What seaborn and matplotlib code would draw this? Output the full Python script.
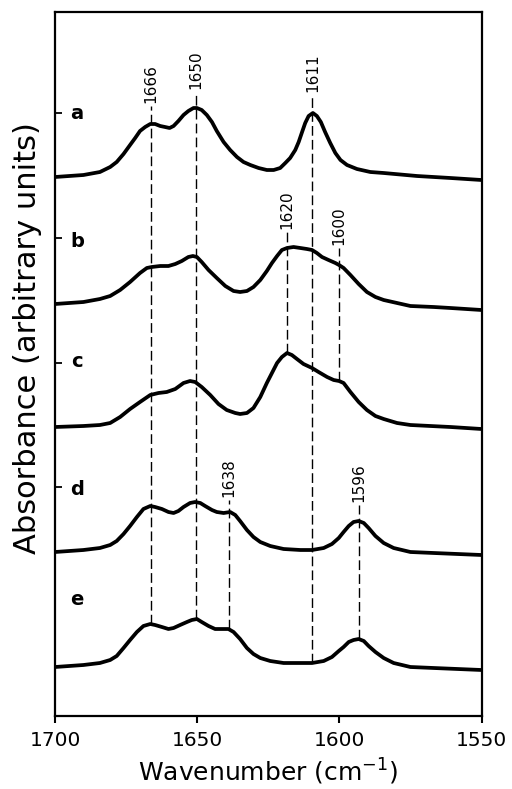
import numpy as np
import pandas as pd
import matplotlib
matplotlib.use("Agg")
import matplotlib.pyplot as plt
import seaborn as sns

# spectra (wavenumber, absorbance incl. stacking offset)
wn_a = [1700, 1690.0, 1684.2, 1680.6, 1678.3, 1675.9, 1673.6, 1671.8, 1670.1, 1668.3,
        1666.5, 1664.8, 1663.0, 1661.3, 1659.7, 1658.3, 1656.6, 1654.8, 1653.1, 1651.3,
        1650.1, 1648.4, 1646.6, 1644.8, 1643.1, 1640.7, 1638.4, 1636.0, 1633.7, 1631.3,
        1628.4, 1625.5, 1623.1, 1620.8, 1619.0, 1617.3, 1615.5, 1614.3, 1613.1, 1612.0,
        1610.8, 1609.3, 1607.9, 1606.5, 1605.0, 1603.2, 1601.4, 1599.6, 1597.3, 1593.8,
        1589.1, 1584.4, 1572.7, 1560.9, 1550]
abs_a = [5.39, 5.41, 5.44, 5.49, 5.54, 5.62, 5.71, 5.78, 5.85, 5.89,
         5.92, 5.92, 5.90, 5.89, 5.88, 5.90, 5.95, 6.01, 6.05, 6.08,
         6.08, 6.06, 6.01, 5.94, 5.85, 5.74, 5.66, 5.59, 5.54, 5.51,
         5.48, 5.46, 5.46, 5.48, 5.53, 5.58, 5.66, 5.74, 5.84, 5.93,
         6.00, 6.03, 6.00, 5.94, 5.84, 5.73, 5.63, 5.56, 5.51, 5.47,
         5.44, 5.43, 5.40, 5.38, 5.36]

wn_b = [1700, 1690.0, 1684.2, 1680.6, 1677.1, 1673.6, 1670.1, 1667.7, 1666.0, 1663.0,
        1660.1, 1657.7, 1655.4, 1653.1, 1651.5, 1650.1, 1648.4, 1646.0, 1643.1, 1640.1,
        1637.2, 1634.9, 1632.5, 1630.2, 1627.8, 1625.5, 1623.7, 1621.9, 1620.2, 1618.4,
        1616.1, 1613.7, 1611.4, 1609.6, 1607.9, 1606.1, 1603.8, 1601.4, 1600.1, 1598.5,
        1596.1, 1593.2, 1590.3, 1587.3, 1584.4, 1579.7, 1575.0, 1566.8, 1560.9, 1550]
abs_b = [4.12, 4.14, 4.17, 4.20, 4.26, 4.34, 4.43, 4.48, 4.49, 4.50,
         4.50, 4.52, 4.55, 4.59, 4.60, 4.59, 4.54, 4.46, 4.38, 4.30,
         4.25, 4.24, 4.25, 4.29, 4.36, 4.45, 4.53, 4.60, 4.66, 4.68,
         4.69, 4.68, 4.67, 4.66, 4.63, 4.59, 4.56, 4.53, 4.51, 4.48,
         4.41, 4.32, 4.24, 4.19, 4.16, 4.13, 4.10, 4.09, 4.08, 4.06]

wn_c = [1700, 1690.0, 1684.2, 1680.6, 1677.1, 1673.6, 1670.1, 1666.5, 1663.6, 1660.7,
        1657.7, 1654.8, 1652.5, 1650.7, 1648.4, 1645.4, 1642.5, 1639.6, 1636.6, 1634.9,
        1632.5, 1630.2, 1627.8, 1625.5, 1623.7, 1621.9, 1620.2, 1618.4, 1616.7, 1614.9,
        1612.6, 1609.6, 1607.3, 1604.3, 1602.0, 1600.1, 1598.5, 1596.1, 1593.2, 1590.3,
        1587.3, 1584.4, 1579.7, 1575.0, 1560.9, 1550]
abs_c = [2.89, 2.90, 2.91, 2.93, 2.99, 3.07, 3.14, 3.21, 3.23, 3.24,
         3.27, 3.33, 3.35, 3.34, 3.29, 3.21, 3.12, 3.06, 3.03, 3.02,
         3.03, 3.08, 3.19, 3.33, 3.43, 3.53, 3.59, 3.63, 3.61, 3.57,
         3.52, 3.48, 3.44, 3.39, 3.36, 3.35, 3.33, 3.24, 3.14, 3.06,
         3.00, 2.97, 2.93, 2.91, 2.89, 2.87]

wn_d = [1700, 1690.0, 1684.2, 1680.6, 1678.3, 1675.9, 1673.6, 1671.2, 1668.9, 1666.5,
        1664.8, 1662.4, 1660.1, 1658.3, 1656.6, 1654.8, 1652.5, 1650.7, 1648.9, 1647.2,
        1644.8, 1643.1, 1640.7, 1638.4, 1636.6, 1634.9, 1632.5, 1630.2, 1627.8, 1624.3,
        1619.6, 1613.7, 1609.6, 1605.5, 1602.6, 1600.2, 1598.5, 1596.7, 1595.0, 1593.2,
        1591.4, 1589.7, 1587.3, 1584.4, 1580.9, 1575.0, 1566.8, 1550]
abs_d = [1.64, 1.66, 1.68, 1.71, 1.75, 1.82, 1.90, 1.99, 2.07, 2.10,
         2.09, 2.07, 2.04, 2.03, 2.05, 2.09, 2.13, 2.14, 2.13, 2.10,
         2.06, 2.04, 2.03, 2.04, 2.01, 1.95, 1.86, 1.79, 1.74, 1.70,
         1.67, 1.66, 1.66, 1.68, 1.72, 1.78, 1.84, 1.90, 1.94, 1.95,
         1.93, 1.88, 1.80, 1.73, 1.68, 1.64, 1.63, 1.61]

wn_e = [1700, 1690.0, 1684.2, 1680.6, 1678.3, 1675.9, 1673.6, 1671.2, 1668.9, 1666.5,
        1664.8, 1662.4, 1660.1, 1658.3, 1656.0, 1653.6, 1651.9, 1650.1, 1648.4, 1646.0,
        1643.7, 1641.3, 1639.0, 1637.2, 1634.9, 1632.5, 1630.2, 1627.8, 1624.3, 1619.6,
        1613.7, 1609.6, 1605.5, 1602.6, 1600.2, 1598.5, 1596.7, 1595.0, 1593.2, 1591.4,
        1589.7, 1587.3, 1584.4, 1580.9, 1575.0, 1566.8, 1550]
abs_e = [0.49, 0.51, 0.53, 0.56, 0.60, 0.68, 0.76, 0.84, 0.90, 0.92,
         0.91, 0.89, 0.87, 0.88, 0.91, 0.94, 0.96, 0.97, 0.94, 0.90,
         0.87, 0.87, 0.87, 0.84, 0.77, 0.68, 0.62, 0.58, 0.55, 0.53,
         0.53, 0.53, 0.55, 0.59, 0.65, 0.69, 0.74, 0.76, 0.77, 0.75,
         0.70, 0.64, 0.58, 0.53, 0.49, 0.48, 0.46]

trace_names = ["a", "b", "c", "d", "e"]
name_y = [5.97, 4.69, 3.49, 2.21, 1.11]

# marked bands: label, drawn position, dashed line extent
peak_labels = ["1666", "1650", "1611", "1620", "1600", "1638", "1596"]
peak_wn = [1666.3, 1650.5, 1609.5, 1618.3, 1600.1, 1638.8, 1593.2]
peak_top = [6.10, 6.24, 6.21, 4.84, 4.68, 2.16, 2.11]
peak_bottom = [0.92, 0.97, 0.53, 3.63, 3.35, 0.87, 0.77]

side_ticks = [6.03, 4.78, 3.53, 2.29]

sns.set_style("ticks", {"axes.edgecolor": "black", "text.color": "black",
                        "xtick.color": "black", "ytick.color": "black",
                        "axes.labelcolor": "black"})
plt.rcParams["font.family"] = ["DejaVu Sans"]

fig = plt.figure(figsize=(5.12, 7.89), dpi=100)
ax = fig.add_axes([55 / 512, 73 / 789, 426.5 / 512, 704 / 789])

spectra = [(wn_a, abs_a), (wn_b, abs_b), (wn_c, abs_c), (wn_d, abs_d), (wn_e, abs_e)]
for wn, ab in spectra:
    df = pd.DataFrame({"wn": wn, "abs": ab})
    sns.lineplot(data=df, x="wn", y="abs", ax=ax, color="black", lw=2.7,
                 sort=False, solid_joinstyle="round", solid_capstyle="butt")

ax.vlines(peak_wn, peak_bottom, peak_top, colors="black", lw=1.0,
          linestyles=(0, (7, 3)))
for lab, x, top in zip(peak_labels, peak_wn, peak_top):
    ax.text(x, top + 0.03, lab, rotation=90, ha="center", va="bottom",
            fontsize=11)

for name, y in zip(trace_names, name_y):
    ax.text(1692.3, y, name, ha="center", va="baseline", fontsize=14,
            fontweight="bold")

ax.set_xlim(1700, 1550)
ax.set_ylim(0, 7.04)
ax.set_xticks([1700, 1650, 1600, 1550])
ax.set_yticks(side_ticks)
ax.set_yticklabels([])
ax.tick_params(axis="x", direction="out", length=5, width=1.5, labelsize=14.5, pad=6)
ax.tick_params(axis="y", direction="in", length=5, width=1.3)
for sp in ax.spines.values():
    sp.set_linewidth(1.6)
    sp.set_visible(True)

ax.set_xlabel("Wavenumber (cm$^{-1}$)", fontsize=18, labelpad=5)
ax.set_ylabel("Absorbance (arbitrary units)", fontsize=22)
ax.yaxis.set_label_coords(-0.03, 0.537)

fig.savefig("out.png", dpi=100)
